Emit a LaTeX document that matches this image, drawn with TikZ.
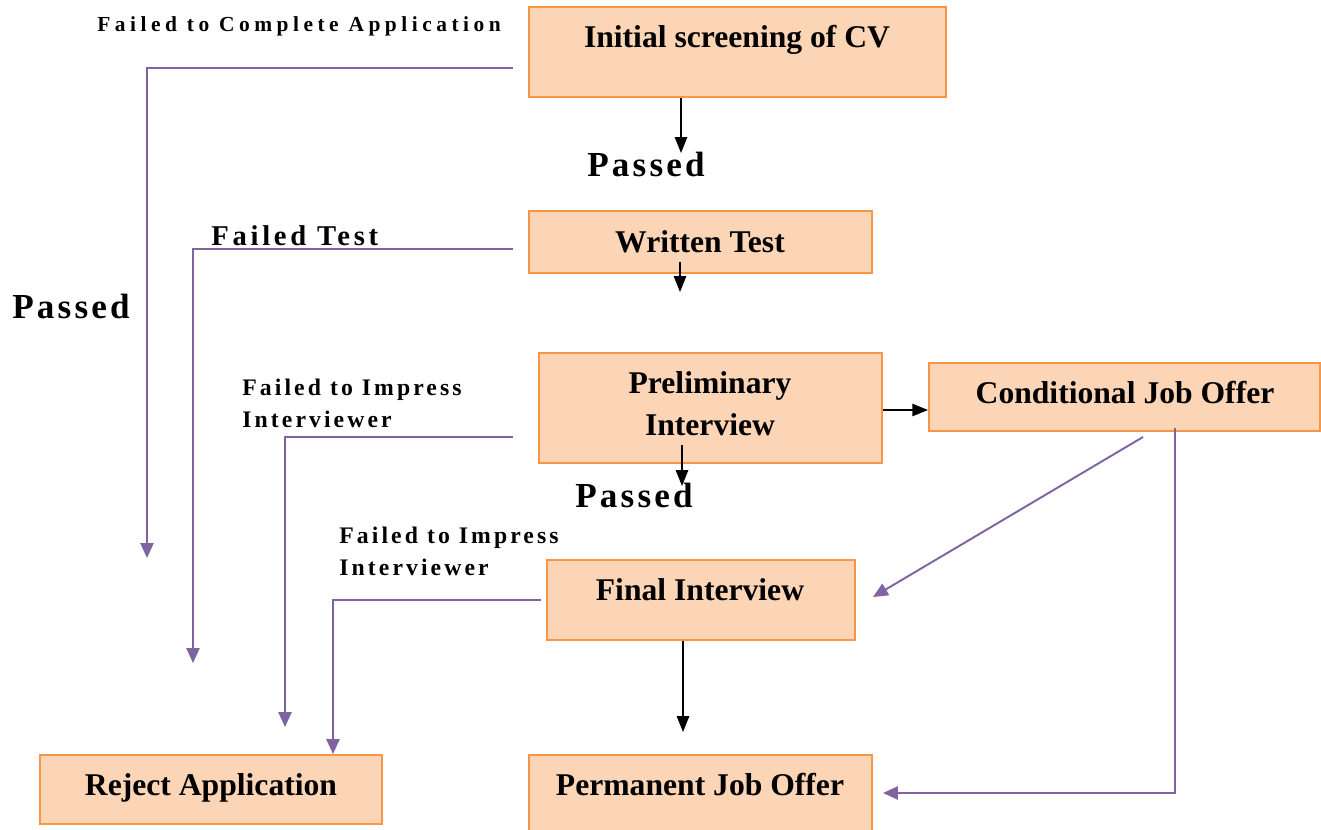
\documentclass[tikz,border=0pt]{standalone}
\usepackage{fontspec}
\setmainfont{Liberation Serif}
\newfontfamily\lsA[LetterSpace=21]{Liberation Serif}
\newfontfamily\lsB[LetterSpace=13]{Liberation Serif}
\newfontfamily\lsC[LetterSpace=9]{Liberation Serif}
\newfontfamily\lsD[LetterSpace=13]{Liberation Serif}
\usetikzlibrary{arrows.meta}
\definecolor{boxfill}{HTML}{FBD5B5}
\definecolor{boxline}{HTML}{F79646}
\definecolor{purp}{HTML}{8064A2}
\tikzset{
  box/.style={draw=boxline, fill=boxfill, line width=1.1pt, rectangle, inner sep=0pt},
  btxt/.style={anchor=base, inner sep=0pt, font=\fontsize{18}{20}\selectfont\bfseries},
  lbl/.style={anchor=base west, inner sep=0pt, align=left},
  blk/.style={draw=black, line width=0.9pt, -{Triangle[length=9pt,width=7pt]}},
  prp/.style={draw=purp, line width=1.1pt, -{Triangle[length=8.5pt,width=7.5pt]}},
}
\begin{document}
\begin{tikzpicture}[x=0.02cm,y=-0.02cm]
\useasboundingbox (0,0) rectangle (1321,829);
% boxes
\node[box, minimum width=8.34cm, minimum height=1.80cm] (cv) at (737.5,52) {};
\node[box, minimum width=6.86cm, minimum height=1.24cm] (wt) at (700.5,242) {};
\node[box, minimum width=6.86cm, minimum height=2.20cm] (pi) at (710.5,408) {};
\node[box, minimum width=7.82cm, minimum height=1.36cm] (cjo) at (1124.5,397) {};
\node[box, minimum width=6.16cm, minimum height=1.60cm] (fi) at (701,600) {};
\node[box, minimum width=6.84cm, minimum height=1.38cm] (ra) at (211,789.5) {};
\node[box, minimum width=6.86cm, minimum height=1.52cm] (pjo) at (700.5,793) {};
% box texts
\node[btxt] (cvt) at (737,47) {Initial screening of CV};
\node[btxt] (wtt) at (700,252) {Written Test};
\node[btxt] (pit1) at (710,393) {Preliminary};
\node[btxt] (pit2) at (710,435) {Interview};
\node[btxt] (cjot) at (1125,403) {Conditional Job Offer};
\node[btxt] (fit) at (700,600) {Final Interview};
\node[btxt] (rat) at (211,795) {Reject Application};
\node[btxt] (pjot) at (700,795) {Permanent Job Offer};
% labels
\node[lbl, font=\lsA\fontsize{12.2}{14}\selectfont\bfseries] (l1) at (97,31) {Failed to Complete Application};
\node[lbl, font=\lsC\fontsize{20}{22}\selectfont\bfseries] (ps1) at (587,176) {Passed};
\node[lbl, font=\lsB\fontsize{16.3}{18}\selectfont\bfseries] (l2) at (211,245) {Failed Test};
\node[lbl, font=\lsC\fontsize{20}{22}\selectfont\bfseries] (ps0) at (12,318) {Passed};
\node[lbl, font=\lsD\fontsize{13.5}{15}\selectfont\bfseries] (l3a) at (242,395) {Failed to Impress};
\node[lbl, font=\lsD\fontsize{13.5}{15}\selectfont\bfseries] (l3b) at (242,427) {Interviewer};
\node[lbl, font=\lsC\fontsize{20}{22}\selectfont\bfseries] (ps2) at (575,507) {Passed};
\node[lbl, font=\lsD\fontsize{13.5}{15}\selectfont\bfseries] (l4a) at (339,543) {Failed to Impress};
\node[lbl, font=\lsD\fontsize{13.5}{15}\selectfont\bfseries] (l4b) at (339,575) {Interviewer};
% coordinates
\coordinate (b1) at (681,153);
\coordinate (b2s) at (680,262);
\coordinate (b2) at (680,292);
\coordinate (b3s) at (682,445);
\coordinate (b3) at (682,486);
\coordinate (b5) at (683,732);
\coordinate (p1s) at (513,68);
\coordinate (p1) at (147,558);
\coordinate (p2s) at (513,249);
\coordinate (p2) at (193,663);
\coordinate (p3s) at (513,437);
\coordinate (p3) at (285,727);
\coordinate (p4s) at (541,600);
\coordinate (p4) at (333,754);
\coordinate (d1s) at (1143,437);
\coordinate (d1) at (873,597);
\coordinate (d2s) at (1175,428);
\coordinate (d2) at (883,793);
% black arrows
\draw[blk] (cv.south -| b1) -- (b1);
\draw[blk] (b2s) -- (b2);
\draw[blk] (b3s) -- (b3);
\draw[blk] (pi.east |- 0,410) -- (cjo.west |- 0,410);
\draw[blk] (fi.south -| b5) -- (b5);
% purple arrows
\draw[prp] (p1s) -| (p1);
\draw[prp] (p2s) -| (p2);
\draw[prp] (p3s) -| (p3);
\draw[prp] (p4s) -| (ra.north -| p4);
\draw[prp] (d1s) -- (d1);
\draw[prp] (d2s) |- (d2);
\end{tikzpicture}
\end{document}
